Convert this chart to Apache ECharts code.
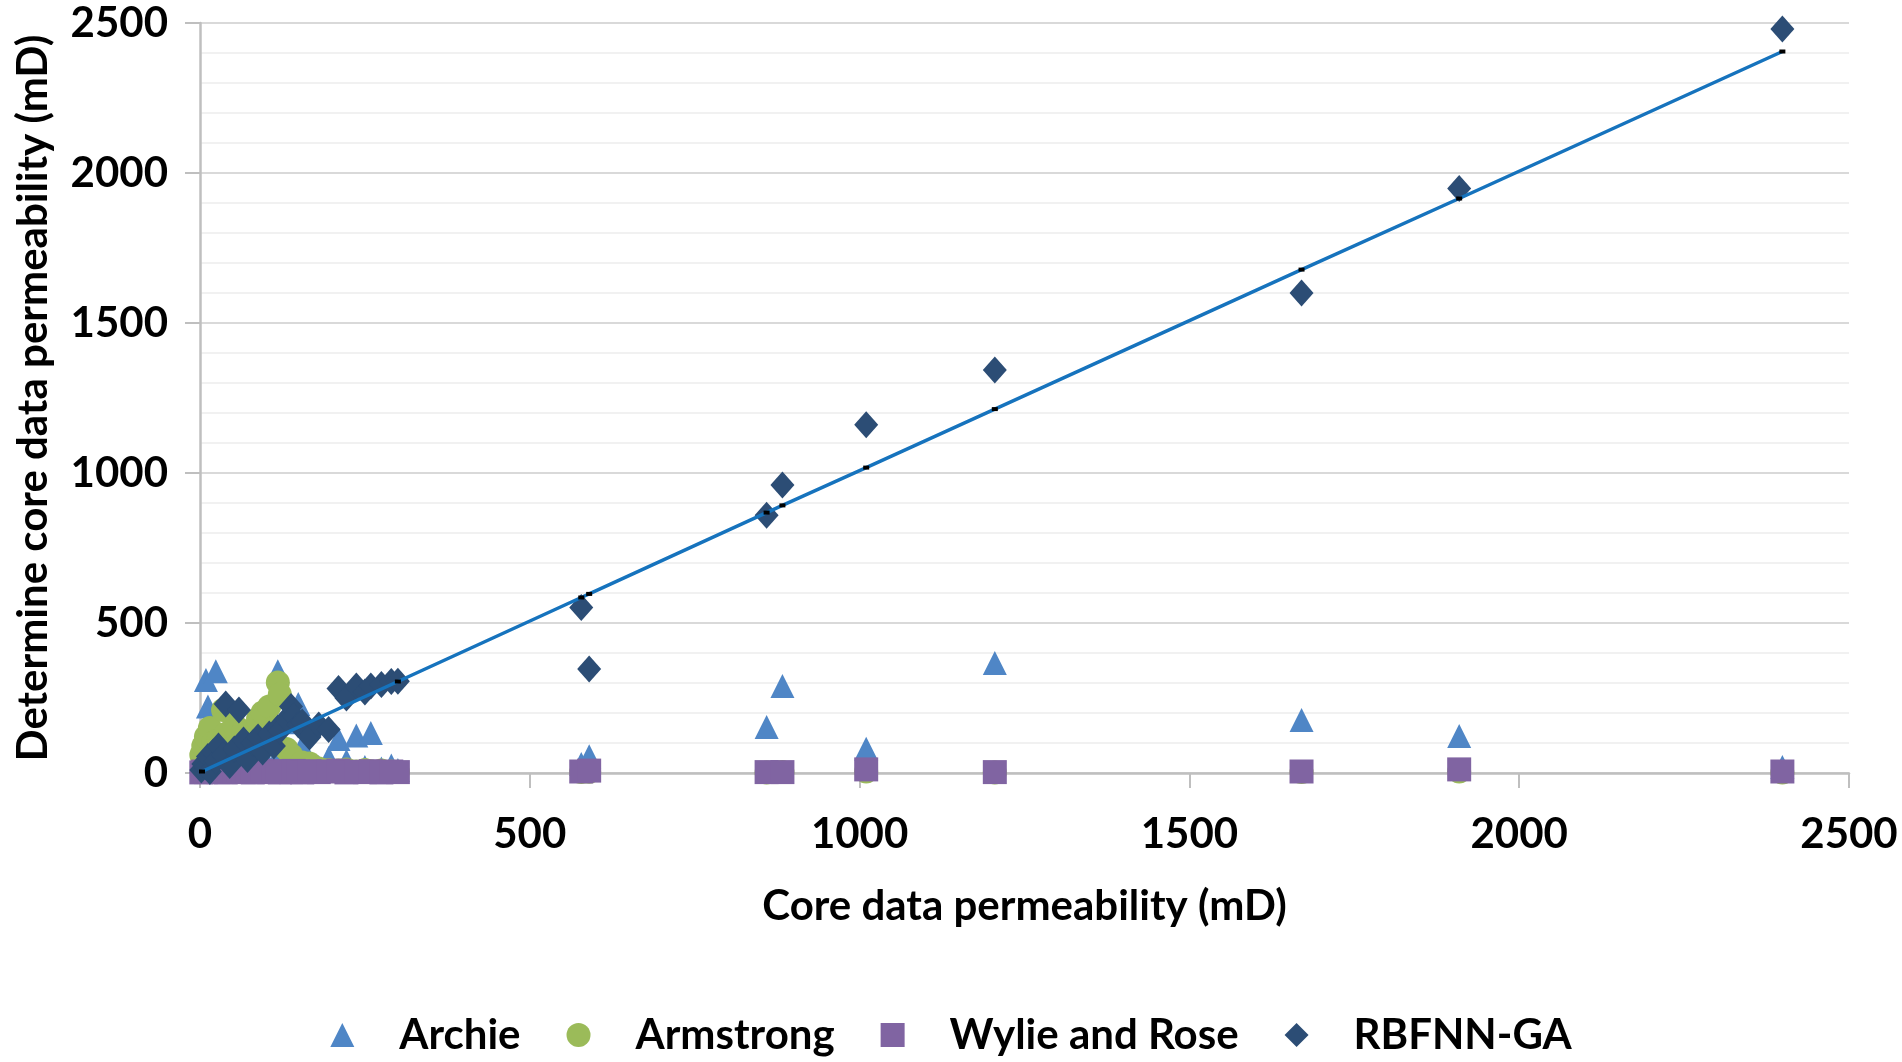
<!DOCTYPE html>
<html>
<head>
<meta charset="utf-8">
<title>Core data permeability</title>
<script src="https://cdn.jsdelivr.net/npm/echarts@6/dist/echarts.min.js"></script>
<style>
  html, body { margin: 0; padding: 0; background: #fff; }
  #chart { width: 1902px; height: 1062px; }
</style>
</head>
<body>
<div id="chart"></div>
<script>
// core data permeability (mD), shared by all models
const coreK = [2, 5, 9, 12, 15, 20, 24, 28, 35, 39, 45, 52, 59, 66, 72, 80, 88, 95, 105, 112,
  118, 121, 131, 138, 142, 149, 155, 166, 180, 195, 210, 222, 237, 250, 259, 275, 290, 300,
  578, 590, 859, 883, 1010, 1205, 1670, 1909, 2399];

// determined permeability per model (mD)
const archie = [40, 80, 310, 222, 161, 100, 339, 121, 60, 30, 90, 20, 50, 15, 35, 10, 25, 40, 20, 30,
  339, 60, 169, 45, 202, 230, 90, 30, 20, 50, 113, 40, 125, 20, 133, 15, 25, 10,
  30, 56, 153, 290, 81, 367, 177, 123, 20];
const armstrong = [60, 90, 121, 40, 150, 100, 70, 110, 210, 130, 80, 161, 95, 140, 60, 120, 180, 202, 222, 150,
  302, 262, 80, 60, 45, 20, 35, 32, 15, 10, 8, 12, 5, 10, 6, 8, 5, 4,
  3, 4, 2, 3, 5, 2, 3, 5, 2];
const wyllie = [2, 5, 3, 8, 4, 6, 10, 3, 5, 2, 7, 4, 9, 3, 6, 2, 5, 8, 3, 4,
  6, 2, 5, 3, 7, 4, 2, 6, 3, 5, 8, 2, 4, 3, 6, 2, 5, 3,
  5, 8, 3, 3, 12, 3, 5, 12, 5];
const rbfnn = [10, 30, 20, 55, 5, 70, 40, 90, 60, 230, 25, 80, 210, 110, 45, 100, 120, 70, 130, 90,
  150, 140, 180, 222, 190, 161, 170, 120, 160, 145, 282, 250, 290, 270, 290, 295, 305, 306,
  552, 347, 859, 960, 1161, 1343, 1600, 1948, 2480];

// fitted line points
const fitX = [3, 300, 578, 590, 859, 883, 1010, 1205, 1670, 1909, 2399];
const fitY = [5, 305, 585, 597, 868, 892, 1018, 1213, 1678, 1915, 2405];

const seriesNames = ['Archie', 'Armstrong', 'Wylie and Rose', 'RBFNN-GA'];
const seriesColors = ['#4F86C6', '#9BBB59', '#8064A2', '#2C4D75'];
const seriesSymbols = ['triangle', 'circle', 'rect', 'diamond'];
const seriesValues = [archie, armstrong, wyllie, rbfnn];

const font = 'Lato, "Open Sans", sans-serif';
const fs = 42;
const gray = '#BFBFBF';
const txt = { fontFamily: font, fontWeight: 'bold', fontSize: fs, color: '#000' };

const chart = echarts.init(document.getElementById('chart'));

const scatters = seriesNames.map((name, k) => ({
  name: name,
  type: 'scatter',
  symbol: seriesSymbols[k],
  symbolSize: seriesSymbols[k] === 'diamond' ? [24, 27] : 24,
  itemStyle: { color: seriesColors[k], opacity: 1 },
  data: coreK.map((x, i) => [x, seriesValues[k][i]]),
  z: 2 + k
}));

chart.setOption({
  animation: false,
  backgroundColor: '#fff',
  textStyle: { fontFamily: font, fontWeight: 'bold', color: '#000' },
  grid: { left: 200, right: 53, top: 23, bottom: 289 },
  legend: {
    data: seriesNames.map((n, k) => ({ name: n, icon: seriesSymbols[k] })),
    left: 'center',
    top: 1009,
    itemWidth: 24,
    itemHeight: 24,
    itemGap: 46,
    textStyle: Object.assign({}, txt, { padding: [0, 0, 0, 40] })
  },
  xAxis: {
    type: 'value',
    min: 0, max: 2500, interval: 500,
    name: 'Core data permeability (mD)',
    nameLocation: 'middle',
    nameGap: 112,
    nameTextStyle: Object.assign({}, txt, { width: 1200, overflow: 'none' }),
    axisLine: { show: true, onZero: false, lineStyle: { color: gray, width: 2.5 } },
    axisTick: { show: true, length: 15, lineStyle: { color: gray, width: 2 } },
    axisLabel: Object.assign({}, txt, { margin: 40, formatter: v => String(v) }),
    splitLine: { show: false }
  },
  yAxis: {
    type: 'value',
    min: 0, max: 2500, interval: 500,
    name: 'Determine core data permeability (mD)',
    nameLocation: 'middle',
    nameGap: 146,
    nameTextStyle: Object.assign({}, txt, { width: 1200, overflow: 'none' }),
    nameTruncate: { maxWidth: 2000 },
    axisLine: { show: true, onZero: false, lineStyle: { color: gray, width: 2.5 } },
    axisTick: { show: true, length: 15, lineStyle: { color: gray, width: 2 } },
    axisLabel: Object.assign({}, txt, { margin: 32, formatter: v => String(v) }),
    splitLine: { show: true, lineStyle: { color: '#D9D9D9', width: 2 } },
    minorTick: { show: false, splitNumber: 5 },
    minorSplitLine: { show: true, lineStyle: { color: '#EDEDED', width: 1.5 } }
  },
  series: scatters.concat([{
    name: 'fit',
    type: 'line',
    data: fitX.map((x, i) => [x, fitY[i]]),
    symbol: 'rect',
    symbolSize: [6, 4],
    showSymbol: true,
    itemStyle: { color: '#000' },
    lineStyle: { color: '#1673BD', width: 3.5 },
    z: 10
  }])
});
</script>
</body>
</html>
